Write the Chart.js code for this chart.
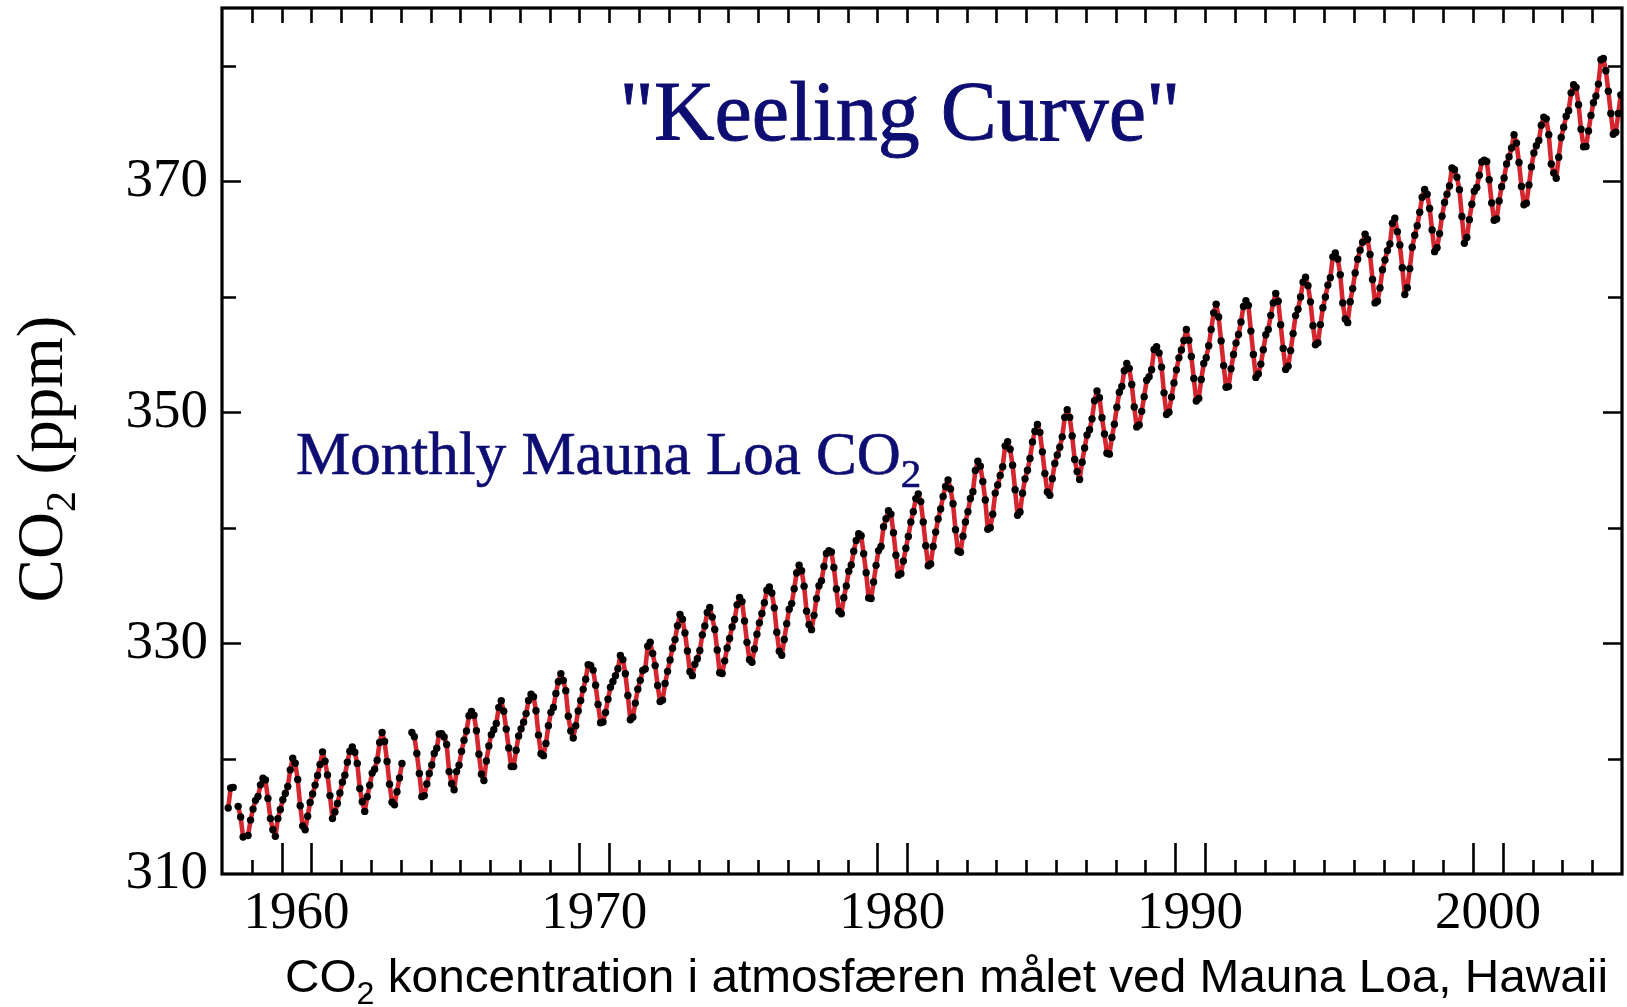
<!DOCTYPE html>
<html>
<head>
<meta charset="utf-8">
<script src="https://cdn.jsdelivr.net/npm/chart.js@4/dist/chart.umd.min.js"></script>
<style>
  html, body { margin: 0; padding: 0; background: #ffffff; }
  #wrap { position: relative; width: 1627px; height: 1007px; }
</style>
</head>
<body>
<div id="wrap"><canvas id="chart" width="1627" height="1007"></canvas></div>
<script>
// Monthly mean CO2 at Mauna Loa (ppm), one value per month starting in January.
// null = no measurement that month.
const co2_1958_1959 = [
  null, null, 315.71, 317.45, 317.50, null, 315.86, 314.93, 313.20, null, 313.33, 314.67,
  315.62, 316.38, 316.71, 317.72, 318.29, 318.15, 316.54, 314.80, 313.84, 313.26, 314.80, 315.58
];
const co2_1960s = [
  316.43, 316.97, 317.58, 319.02, 320.03, 319.59, 318.18, 315.91, 314.16, 313.83, 315.00, 316.19,
  316.93, 317.70, 318.54, 319.48, 320.58, 319.77, 318.57, 316.79, 314.80, 315.38, 316.10, 317.01,
  317.94, 318.56, 319.68, 320.63, 321.01, 320.55, 319.58, 317.40, 316.26, 315.42, 316.69, 317.69,
  318.74, 319.08, 319.86, 321.39, 322.25, 321.47, 319.74, 317.77, 316.21, 315.99, 317.12, 318.31,
  319.57, null, null, null, 322.25, 321.89, 320.44, 318.70, 316.70, 316.79, 317.79, 318.71,
  319.44, 320.44, 320.89, 322.13, 322.16, 321.87, 321.21, 318.87, 317.81, 317.30, 318.87, 319.42,
  320.62, 321.59, 322.39, 323.70, 324.07, 323.75, 322.40, 320.37, 318.64, 318.10, 319.79, 321.08,
  322.07, 322.50, 323.04, 324.42, 325.00, 324.09, 322.55, 320.92, 319.31, 319.31, 320.72, 321.96,
  322.57, 323.15, 323.89, 325.02, 325.57, 325.36, 324.14, 322.03, 320.41, 320.25, 321.31, 322.84,
  324.00, 324.42, 325.64, 326.66, 327.34, 326.76, 325.88, 323.67, 322.38, 321.78, 322.85, 324.12
];
const co2_1970s = [
  325.03, 325.99, 326.87, 328.13, 328.07, 327.66, 326.35, 324.69, 323.10, 323.16, 323.98, 325.13,
  326.17, 326.68, 327.18, 327.78, 328.92, 328.57, 327.34, 325.46, 323.36, 323.57, 324.80, 326.01,
  326.77, 327.63, 327.75, 329.72, 330.07, 329.09, 328.05, 326.32, 324.93, 325.06, 326.50, 327.55,
  328.54, 329.56, 330.30, 331.50, 332.48, 332.07, 330.87, 329.31, 327.51, 327.18, 328.16, 328.64,
  329.35, 330.71, 331.48, 332.65, 333.09, 332.25, 331.18, 329.40, 327.43, 327.37, 328.46, 329.57,
  330.40, 331.40, 332.04, 333.31, 333.96, 333.59, 331.91, 330.06, 328.56, 328.34, 329.49, 330.76,
  331.75, 332.56, 333.50, 334.58, 334.87, 334.34, 333.05, 330.94, 329.30, 328.94, 330.31, 331.68,
  332.93, 333.42, 334.70, 336.07, 336.74, 336.27, 334.93, 332.75, 331.58, 331.16, 332.40, 333.85,
  334.97, 335.39, 336.64, 337.76, 338.01, 337.89, 336.54, 334.68, 332.76, 332.54, 333.92, 334.95,
  336.23, 336.76, 337.96, 338.89, 339.47, 339.29, 337.73, 336.09, 333.91, 333.86, 335.29, 336.73
];
const co2_1980s = [
  338.01, 338.36, 340.08, 340.77, 341.46, 341.17, 339.56, 337.60, 335.88, 336.01, 337.10, 338.21,
  339.24, 340.48, 341.38, 342.51, 342.91, 342.25, 340.49, 338.43, 336.69, 336.85, 338.36, 339.61,
  340.75, 341.61, 342.70, 343.56, 344.13, 343.35, 342.06, 339.82, 337.97, 337.86, 339.26, 340.49,
  341.38, 342.52, 343.10, 344.94, 345.75, 345.32, 343.99, 342.39, 339.86, 339.99, 341.16, 342.99,
  343.70, 344.51, 345.28, 347.08, 347.43, 346.79, 345.40, 343.28, 341.07, 341.35, 342.98, 344.22,
  344.97, 345.99, 347.42, 348.35, 348.93, 348.25, 346.56, 344.69, 343.09, 342.80, 344.24, 345.56,
  346.29, 346.96, 347.86, 349.55, 350.21, 349.55, 347.94, 345.90, 344.85, 344.17, 345.66, 346.90,
  348.02, 348.47, 349.42, 350.99, 351.84, 351.25, 349.52, 348.10, 346.44, 346.36, 347.81, 348.96,
  350.43, 351.72, 352.22, 353.59, 354.22, 353.79, 352.39, 350.44, 348.72, 348.88, 350.07, 351.34,
  352.76, 353.07, 353.68, 355.42, 355.67, 355.13, 353.90, 351.67, 349.80, 349.99, 351.30, 352.53
];
const co2_1990s = [
  353.66, 354.70, 355.39, 356.20, 357.16, 356.22, 354.82, 352.91, 350.96, 351.18, 352.83, 354.21,
  354.72, 355.75, 357.16, 358.60, 359.34, 358.24, 356.17, 354.03, 352.16, 352.21, 353.75, 354.99,
  355.98, 356.72, 357.81, 359.15, 359.66, 359.25, 357.02, 355.00, 353.01, 353.31, 354.16, 355.40,
  356.70, 357.16, 358.38, 359.46, 360.28, 359.60, 357.57, 355.52, 353.70, 353.98, 355.33, 356.80,
  358.36, 358.91, 359.97, 361.26, 361.68, 360.95, 359.55, 357.49, 355.84, 356.00, 357.58, 359.04,
  359.97, 361.00, 361.64, 363.45, 363.79, 363.26, 361.90, 359.46, 358.06, 357.75, 359.56, 360.70,
  362.05, 363.25, 364.03, 364.72, 365.41, 364.97, 363.65, 361.49, 359.46, 359.60, 360.76, 362.33,
  363.18, 363.99, 364.56, 366.36, 366.80, 365.63, 364.47, 362.50, 360.19, 360.78, 362.43, 364.28,
  365.32, 366.15, 367.31, 368.61, 369.29, 368.87, 367.64, 365.77, 363.90, 364.23, 365.46, 366.97,
  368.15, 368.87, 369.59, 371.14, 371.00, 370.35, 369.27, 366.94, 364.63, 365.12, 366.67, 368.01
];
const co2_2000s = [
  369.14, 369.46, 370.52, 371.66, 371.82, 371.70, 370.12, 368.12, 366.62, 366.73, 368.29, 369.53,
  370.28, 371.50, 372.12, 372.87, 374.02, 373.30, 371.62, 369.55, 367.96, 368.09, 369.68, 371.24,
  372.44, 373.08, 373.52, 374.85, 375.55, 375.40, 374.02, 371.49, 370.71, 370.25, 372.08, 373.78,
  374.68, 375.63, 376.11, 377.65, 378.35, 378.13, 376.62, 374.50, 372.99, 373.00, 374.35, 375.70,
  376.79, 377.37, 378.41, 380.52, 380.63, 379.57, 377.79, 375.86, 374.06, 374.24, 375.86, 377.48
];

// First calendar year covered by each block above.
const blockStartYears = [1958, 1960, 1970, 1980, 1990, 2000];
const blocks = [co2_1958_1959, co2_1960s, co2_1970s, co2_1980s, co2_1990s, co2_2000s];

// Axis labels
const xTickYears  = [1960, 1970, 1980, 1990, 2000];
const xTickLabels = ['1960', '1970', '1980', '1990', '2000'];
const yTickValues = [310, 330, 350, 370];
const yTickLabels = ['310', '330', '350', '370'];

// Each monthly value sits at the middle of its month.
const points = [];
blocks.forEach((vals, b) => {
  vals.forEach((v, i) => {
    points.push({ x: blockStartYears[b] + (i + 0.5) / 12, y: v });
  });
});

const NAVY = '#0d0d72';
const SERIF = '"Liberation Serif", "Times New Roman", serif';
const SANS = '"Liberation Sans", Arial, sans-serif';

// Draws a run of text pieces (with optional subscripts) starting at x.
function runWidth(ctx, parts) {
  let w = 0;
  parts.forEach(p => { ctx.font = p.font; w += ctx.measureText(p.t).width; });
  return w;
}
function drawRun(ctx, parts, x, y, outline) {
  parts.forEach(p => {
    ctx.font = p.font;
    ctx.fillText(p.t, x, y + (p.dy || 0));
    if (outline) ctx.strokeText(p.t, x, y + (p.dy || 0));
    x += ctx.measureText(p.t).width;
  });
}

// Axes keep their full extent: no extra room reserved for label overhang.
function noLabelPadding(s) {
  s.paddingTop = 0; s.paddingBottom = 0; s.paddingLeft = 0; s.paddingRight = 0;
}

const framePlugin = {
  id: 'frameAndText',
  afterDatasetsDraw(chart) {
    const { ctx, chartArea: a, scales: { x, y } } = chart;
    ctx.save();
    ctx.strokeStyle = '#000';
    ctx.lineCap = 'butt';
    ctx.lineWidth = 2.6;
    ctx.beginPath();
    // yearly ticks: bottom (long at each decade and the following year), top short
    for (let yr = 1959; yr <= 2004; yr++) {
      const px = Math.round(x.getPixelForValue(yr)) + 0.5;
      const long = xTickYears.includes(yr) || xTickYears.includes(yr - 1);
      ctx.moveTo(px, a.bottom);
      ctx.lineTo(px, a.bottom - (long ? 31 : 14));
      ctx.moveTo(px, a.top);
      ctx.lineTo(px, a.top + 15);
    }
    // 10 ppm ticks on both sides, longer at the labelled values
    for (let v = 320; v <= 380; v += 10) {
      const py = Math.round(y.getPixelForValue(v)) + 0.5;
      const len = yTickValues.includes(v) ? 19 : 14;
      ctx.moveTo(a.left, py);
      ctx.lineTo(a.left + len, py);
      ctx.moveTo(a.right, py);
      ctx.lineTo(a.right - len, py);
    }
    ctx.stroke();
    ctx.lineWidth = 3.2;
    ctx.strokeRect(a.left, a.top, a.right - a.left, a.bottom - a.top);
    ctx.restore();
  },
  afterDraw(chart) {
    const { ctx } = chart;
    ctx.save();
    ctx.textBaseline = 'alphabetic';
    ctx.textAlign = 'left';

    // heading inside the plot
    ctx.fillStyle = NAVY;
    ctx.strokeStyle = NAVY;
    ctx.lineWidth = 0.9;
    ctx.font = '84px ' + SERIF;
    const head = '"Keeling Curve"';
    const hw = ctx.measureText(head).width;
    ctx.fillText(head, 900 - hw / 2, 140);
    ctx.strokeText(head, 900 - hw / 2, 140);

    // series caption
    ctx.lineWidth = 0.6;
    drawRun(ctx, [
      { t: 'Monthly Mauna Loa CO', font: '61px ' + SERIF },
      { t: '2', font: '41px ' + SERIF, dy: 13 }
    ], 296, 474, true);

    // y axis title, rotated
    ctx.fillStyle = '#000';
    const yParts = [
      { t: 'CO', font: '65px ' + SERIF },
      { t: '2', font: '43px ' + SERIF, dy: 13 },
      { t: ' (ppm)', font: '65px ' + SERIF }
    ];
    ctx.translate(62, 459);
    ctx.rotate(-Math.PI / 2);
    const yw = runWidth(ctx, yParts);
    drawRun(ctx, yParts, -yw / 2, 0);
    ctx.setTransform(1, 0, 0, 1, 0, 0);

    // caption under the chart
    const fParts = [
      { t: 'CO', font: '46px ' + SANS },
      { t: '2', font: '31px ' + SANS, dy: 12 },
      { t: ' koncentration i atmosfæren målet ved Mauna Loa, Hawaii', font: '46px ' + SANS }
    ];
    const fw = runWidth(ctx, fParts);
    const target = 1323;
    ctx.translate(285, 992);
    ctx.scale(target / fw, 1);
    drawRun(ctx, fParts, 0, 0);
    ctx.restore();
  }
};

new Chart(document.getElementById('chart'), {
  type: 'line',
  data: {
    datasets: [{
      data: points,
      borderColor: '#d4262e',
      borderWidth: 4.6,
      borderJoinStyle: 'round',
      borderCapStyle: 'round',
      pointRadius: 3.7,
      pointHoverRadius: 3.7,
      pointBackgroundColor: '#000',
      pointBorderWidth: 0,
      tension: 0,
      spanGaps: false,
      clip: 0
    }]
  },
  options: {
    responsive: false,
    animation: false,
    events: [],
    layout: { padding: { top: 8, right: 5, left: 0, bottom: 0 } },
    plugins: { legend: { display: false }, tooltip: { enabled: false } },
    scales: {
      x: {
        type: 'linear',
        min: 1958,
        max: 2005,
        border: { display: false },
        grid: { display: false, drawTicks: false },
        afterBuildTicks: s => { s.ticks = xTickYears.map(v => ({ value: v + 0.5 })); },
        afterFit: s => { s.height = 133; noLabelPadding(s); },
        ticks: {
          autoSkip: false,
          maxRotation: 0,
          padding: 8,
          color: '#000',
          font: { family: SERIF, size: 53 },
          callback: (v, i) => xTickLabels[i]
        }
      },
      y: {
        min: 310,
        max: 385,
        border: { display: false },
        grid: { display: false, drawTicks: false },
        afterBuildTicks: s => { s.ticks = yTickValues.map(v => ({ value: v })); },
        afterFit: s => { s.width = 222; noLabelPadding(s); },
        ticks: {
          padding: 14,
          color: '#000',
          font: { family: SERIF, size: 55 },
          callback: (v, i) => yTickLabels[i]
        }
      }
    }
  },
  plugins: [framePlugin]
});
</script>
</body>
</html>
